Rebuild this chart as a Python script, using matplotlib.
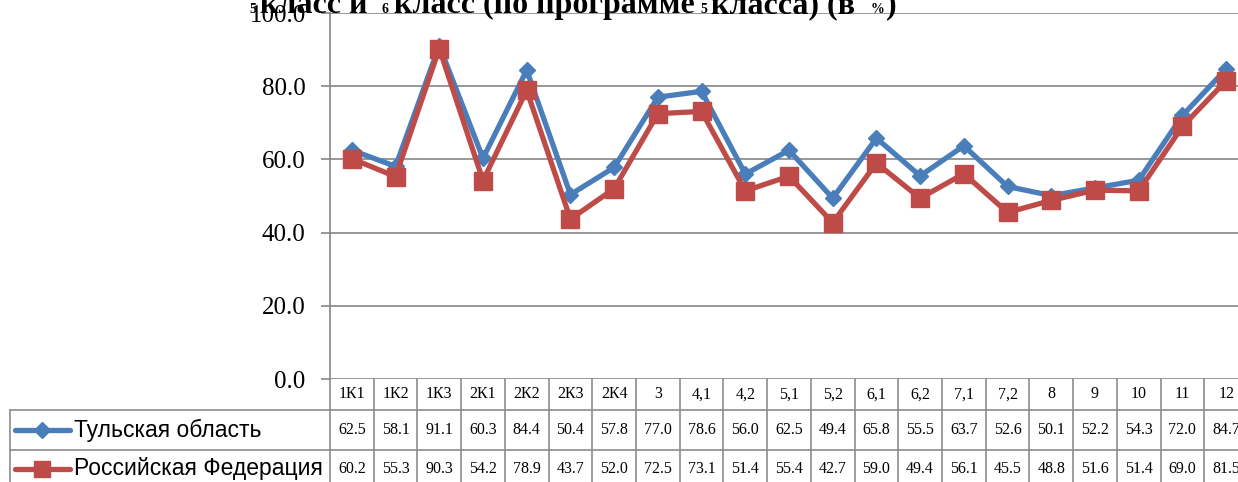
import matplotlib
matplotlib.use("Agg")
import matplotlib.pyplot as plt
from matplotlib.transforms import blended_transform_factory

categories = ["1К1", "1К2", "1К3", "2К1", "2К2", "2К3", "2К4", "3", "4,1", "4,2",
              "5,1", "5,2", "6,1", "6,2", "7,1", "7,2", "8", "9", "10", "11", "12"]
tula = [62.5, 58.1, 91.1, 60.3, 84.4, 50.4, 57.8, 77.0, 78.6, 56.0, 62.5,
        49.4, 65.8, 55.5, 63.7, 52.6, 50.1, 52.2, 54.3, 72.0, 84.7]
russia = [60.2, 55.3, 90.3, 54.2, 78.9, 43.7, 52.0, 72.5, 73.1, 51.4, 55.4,
          42.7, 59.0, 49.4, 56.1, 45.5, 48.8, 51.6, 51.4, 69.0, 81.5]
series_names = ["Тульская область", "Российская Федерация"]
y_ticks = [0, 20, 40, 60, 80, 100]

# title is mixed size: (text, small?)
title_parts = [("5", True), ("класс и", False), ("6", True),
               ("класс (по программе", False), ("5", True),
               ("класса) (в", False), ("%", True), (")", False)]
title_x_px = [249, 260, 381, 394, 700, 711, 871, 886]

BLUE = "#4A7EBB"
RED = "#BE4B48"
GRID = "#868686"
SERIF = "Liberation Serif"
SANS = "Liberation Sans"

W, H = 1238, 482
fig = plt.figure(figsize=(W / 100, H / 100), dpi=100)
fig.patch.set_facecolor("white")

# plot area in pixels: x 330..1248 (runs past the right edge), y 13..379
ax_top, ax_bot = 13, 379
ax = fig.add_axes([330 / W, (H - ax_bot) / H, 918 / W, (ax_bot - ax_top) / H])
ax_h = ax_bot - ax_top
ax_w = 918

x = list(range(len(categories)))
ax.plot(x, tula, color=BLUE, lw=3.8, marker="D", ms=8, mec=BLUE, mfc=BLUE,
        solid_joinstyle="round", zorder=3, clip_on=False)
ax.plot(x, russia, color=RED, lw=3.8, marker="s", ms=13, mec=RED, mfc=RED,
        solid_joinstyle="round", zorder=4, clip_on=False)

ax.set_xlim(-0.5, len(categories) - 0.5)
ax.set_ylim(0, 100)
ax.set_yticks(y_ticks)
ax.set_yticklabels([f"{v:.1f}" for v in y_ticks], fontsize=18, family=SERIF)
ax.set_xticks([])
ax.grid(axis="y", color=GRID, lw=1.2)
ax.set_axisbelow(True)
for side in ("top", "right", "bottom"):
    ax.spines[side].set_visible(False)
ax.spines["left"].set_color(GRID)
ax.spines["left"].set_linewidth(1.2)
ax.tick_params(axis="y", length=6.5, width=1.2, color=GRID, pad=11)


def fy(px):
    # pixel row -> axes fraction
    return (ax_bot - px) / ax_h


def fx(px):
    return (px - 330) / ax_w


col_tr = blended_transform_factory(ax.transData, ax.transAxes)
line_kw = dict(color="#8C8C8C", lw=1.2, clip_on=False, zorder=1)

head_bot, row1_bot, row2_bot = 410, 450, 492
# vertical column lines
for i in range(len(categories) + 1):
    ax.plot([i - 0.5, i - 0.5], [0, fy(row2_bot)], transform=col_tr, **line_kw)
# horizontal rows
for yb in (head_bot, row1_bot):
    ax.plot([fx(10), 1.02], [fy(yb), fy(yb)], transform=ax.transAxes, **line_kw)
ax.plot([fx(10), fx(10)], [fy(head_bot), fy(row2_bot)], transform=ax.transAxes, **line_kw)

# header labels
for i, cat in enumerate(categories):
    ax.text(i, fy((ax_bot + head_bot) / 2), cat, transform=col_tr, ha="center",
            va="center", fontsize=11.5, family=SERIF, clip_on=False)

rows = [(tula, series_names[0], BLUE, "D", 8, (head_bot + row1_bot) / 2),
        (russia, series_names[1], RED, "s", 11, (row1_bot + 488) / 2)]
for vals, name, col, mk, ms, yc in rows:
    for i, v in enumerate(vals):
        ax.text(i, fy(yc), f"{v:.1f}", transform=col_tr, ha="center", va="center",
                fontsize=11.5, family=SERIF, clip_on=False)
    ax.plot([fx(15), fx(70)], [fy(yc), fy(yc)], transform=ax.transAxes, color=col,
            lw=3.8, solid_capstyle="round", clip_on=False)
    ax.plot([fx(42)], [fy(yc)], transform=ax.transAxes, marker=mk, ms=ms, color=col,
            clip_on=False)
    ax.text(fx(74), fy(yc), name, transform=ax.transAxes, ha="left", va="center",
            fontsize=16.5, family=SANS, clip_on=False)

# clipped title at the top
for (txt, small), xp in zip(title_parts, title_x_px):
    fig.text(xp / W, 1 - 13 / H, txt, ha="left", va="baseline",
             fontsize=10 if small else 23, fontweight="bold", family=SERIF)

fig.savefig("out.png", dpi=100)
